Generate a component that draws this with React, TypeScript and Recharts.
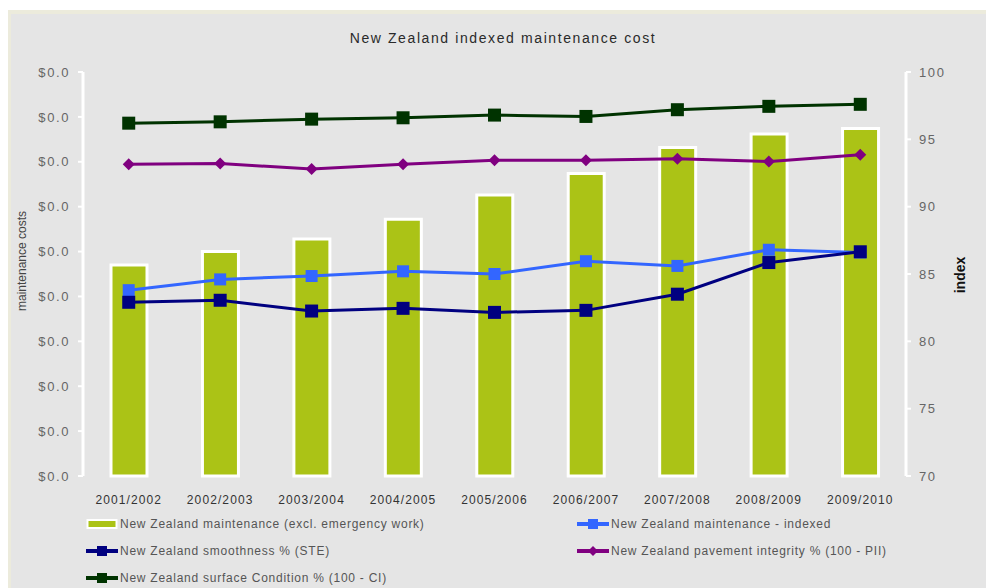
import { ComposedChart, Bar, Line, XAxis, YAxis, Legend } from 'recharts'

const years = ['2001/2002', '2002/2003', '2003/2004', '2004/2005', '2005/2006', '2006/2007', '2007/2008', '2008/2009', '2009/2010']
// $ billions, so every tick prints as $0.0
const maintenanceCost = [0.0235, 0.025, 0.0264, 0.0286, 0.0313, 0.0337, 0.0366, 0.0381, 0.0387]
const maintenanceIndexed = [83.8, 84.6, 84.85, 85.2, 85.0, 85.95, 85.6, 86.8, 86.6]
const smoothness = [82.9, 83.05, 82.25, 82.45, 82.15, 82.3, 83.5, 85.85, 86.65]
const pavementIntegrity = [93.15, 93.2, 92.8, 93.15, 93.45, 93.45, 93.55, 93.35, 93.85]
const surfaceCondition = [96.2, 96.3, 96.5, 96.6, 96.8, 96.7, 97.2, 97.45, 97.6]

const costTicks = [0, 0.005, 0.01, 0.015, 0.02, 0.025, 0.03, 0.035, 0.04, 0.045]
const indexTicks = [70, 75, 80, 85, 90, 95, 100]
const yearBounds = [0, 1, 2, 3, 4, 5, 6, 7, 8, 9]

const data = years.map((year, i) => ({
  year,
  cost: maintenanceCost[i],
  indexed: maintenanceIndexed[i],
  smoothness: smoothness[i],
  pavement: pavementIntegrity[i],
  surface: surfaceCondition[i],
}))

const FONT = '"Liberation Sans", Arial, sans-serif'
const BAR_GREEN = '#abc316'

const legendOrder = ['cost', 'indexed', 'smoothness', 'pavement', 'surface']
const markerFor: Record<string, 'square' | 'diamond' | 'bar'> = {
  cost: 'bar',
  indexed: 'square',
  smoothness: 'square',
  pavement: 'diamond',
  surface: 'square',
}

const squareDot = (color: string, size: number) => (props: any) => {
  const { cx, cy, index } = props
  if (cx == null || cy == null) return null
  return <rect key={`sq-${index}`} x={cx - size / 2} y={cy - size / 2} width={size} height={size} fill={color} />
}

const diamondDot = (color: string, size: number) => (props: any) => {
  const { cx, cy, index } = props
  if (cx == null || cy == null) return null
  const h = size / 2
  return <polygon key={`dm-${index}`} points={`${cx},${cy - h} ${cx + h},${cy} ${cx},${cy + h} ${cx - h},${cy}`} fill={color} />
}

function LegendIcon({ kind, color }: { kind: string; color: string }) {
  if (kind === 'bar') {
    return (
      <svg width={32} height={14} style={{ display: 'block' }}>
        <rect x={1.5} y={3} width={29} height={8} fill={color} stroke="#fff" strokeWidth={2} />
      </svg>
    )
  }
  return (
    <svg width={32} height={14} style={{ display: 'block' }}>
      <line x1={0} y1={7} x2={32} y2={7} stroke={color} strokeWidth={4} />
      {kind === 'diamond'
        ? <polygon points="16,2 21,7 16,12 11,7" fill={color} />
        : <rect x={11} y={2} width={10} height={10} fill={color} />}
    </svg>
  )
}

function ChartLegend(props: any) {
  const payload = [...(props.payload || [])].sort(
    (a: any, b: any) => legendOrder.indexOf(a.dataKey) - legendOrder.indexOf(b.dataKey)
  )
  return (
    <div style={{ display: 'grid', gridTemplateColumns: '491px 400px', fontFamily: FONT, fontSize: 12, letterSpacing: 0.75, color: '#555' }}>
      {payload.map((entry: any) => (
        <div key={entry.value} style={{ display: 'flex', alignItems: 'center', height: 27 }}>
          <LegendIcon kind={markerFor[entry.dataKey] || 'square'} color={entry.color} />
          <span style={{ marginLeft: 2 }}>{entry.value}</span>
        </div>
      ))}
    </div>
  )
}

export default function App() {
  return (
    <div style={{ position: 'fixed', top: 10, left: 8, width: 1010, height: 590, background: '#ecebdc', paddingTop: 4, paddingLeft: 3, boxSizing: 'border-box' }}>
      <div style={{ position: 'relative', width: 1007, height: 586, background: '#e5e5e5' }}>
        <div style={{ position: 'absolute', top: 16, left: 0, width: 975, paddingLeft: 9, boxSizing: 'border-box', textAlign: 'center', fontFamily: FONT, fontSize: 14, letterSpacing: 1.6, color: '#2a2a2a' }}>
          New Zealand indexed maintenance cost
        </div>
        <ComposedChart width={975} height={574} data={data} margin={{ top: 58, right: 0, bottom: 82, left: 0 }}>
          <XAxis
            xAxisId="bounds"
            type="number"
            domain={[0, 9]}
            ticks={yearBounds}
            tick={false}
            height={0}
            axisLine={{ stroke: '#fff', strokeWidth: 3 }}
            tickLine={{ stroke: '#fff', strokeWidth: 2 }}
            tickSize={5}
          />
          <XAxis
            dataKey="year"
            height={30}
            axisLine={false}
            tickLine={false}
            tickMargin={13}
            interval={0}
            tick={{ fill: '#333', fontSize: 12, fontFamily: FONT, letterSpacing: 1.1 }}
          />
          <YAxis
            yAxisId="cost"
            width={72}
            domain={[0, 0.045]}
            ticks={costTicks}
            tickFormatter={(v: number) => `$${v.toFixed(1)}`}
            axisLine={{ stroke: '#fff', strokeWidth: 3 }}
            tickLine={{ stroke: '#fff', strokeWidth: 2 }}
            tickSize={5}
            tickMargin={8}
            tick={{ fill: '#666', fontSize: 13, fontFamily: FONT, letterSpacing: 1.6 }}
            label={{
              content: (p: any) => {
                const vb = p.viewBox || {}
                const x = (vb.x || 0) + 12
                const y = 247
                return (
                  <text x={x} y={y} transform={`rotate(-90, ${x}, ${y})`} textAnchor="middle" dominantBaseline="middle" fill="#444" fontSize={12} fontFamily={FONT}>
                    maintenance costs
                  </text>
                )
              },
            }}
          />
          <YAxis
            yAxisId="index"
            orientation="right"
            width={80}
            domain={[70, 100]}
            ticks={indexTicks}
            axisLine={{ stroke: '#fff', strokeWidth: 3 }}
            tickLine={{ stroke: '#fff', strokeWidth: 2 }}
            tickSize={5}
            tickMargin={8}
            tick={{ fill: '#666', fontSize: 13, fontFamily: FONT, letterSpacing: 1.6 }}
            label={{
              content: (p: any) => {
                const vb = p.viewBox || {}
                const x = (vb.x || 0) + 55
                const y = 261
                return (
                  <text x={x} y={y} transform={`rotate(-90, ${x}, ${y})`} textAnchor="middle" dominantBaseline="middle" fill="#111" fontSize={14} fontWeight="bold" fontFamily={FONT}>
                    index
                  </text>
                )
              },
            }}
          />
          <Legend
            layout="horizontal"
            verticalAlign="middle"
            align="center"
            content={<ChartLegend />}
            wrapperStyle={{ top: 496, left: 75, width: 900 }}
          />
          <Bar yAxisId="cost" dataKey="cost" name="New Zealand maintenance (excl. emergency work)" fill={BAR_GREEN} stroke="#fff" strokeWidth={3} barSize={36} isAnimationActive={false} />
          <Line yAxisId="index" dataKey="indexed" name="New Zealand maintenance - indexed" stroke="#3366ff" strokeWidth={3} dot={squareDot('#3366ff', 12)} activeDot={false} isAnimationActive={false} />
          <Line yAxisId="index" dataKey="smoothness" name="New Zealand smoothness % (STE)" stroke="#000080" strokeWidth={3} dot={squareDot('#000080', 13)} activeDot={false} isAnimationActive={false} />
          <Line yAxisId="index" dataKey="pavement" name="New Zealand pavement integrity % (100 - PII)" stroke="#800080" strokeWidth={3} dot={diamondDot('#800080', 12)} activeDot={false} isAnimationActive={false} />
          <Line yAxisId="index" dataKey="surface" name="New Zealand surface Condition % (100 - CI)" stroke="#003300" strokeWidth={3} dot={squareDot('#003300', 13)} activeDot={false} isAnimationActive={false} />
        </ComposedChart>
      </div>
    </div>
  )
}
